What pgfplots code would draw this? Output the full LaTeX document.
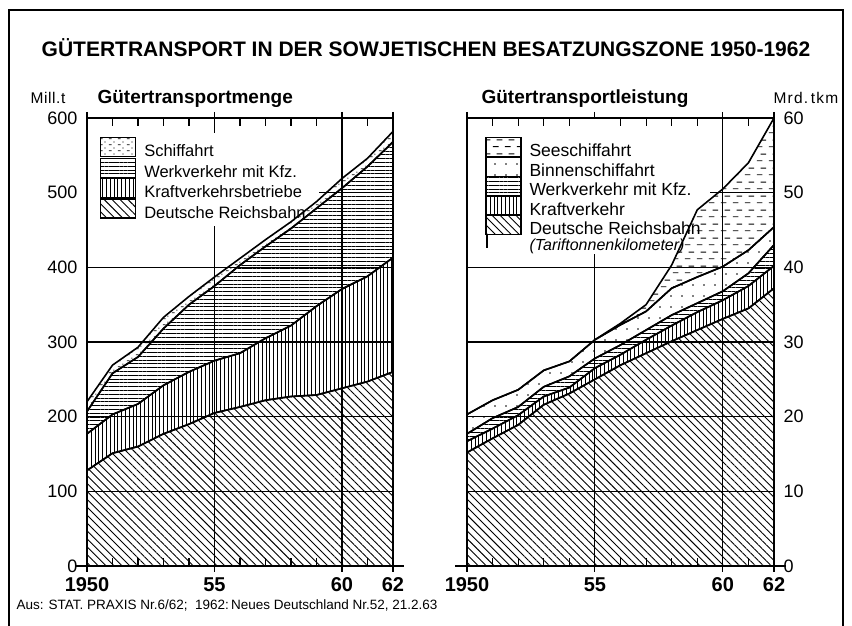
\documentclass[border=0pt]{standalone}
\usepackage{pgfplots}
\pgfplotsset{compat=1.18}
\usepackage{pgfplotstable}
\usetikzlibrary{patterns,patterns.meta}
\usepackage{fontspec}
\setmainfont{Liberation Sans}

\pgfdeclarepatternformonly{seedash}{\pgfqpoint{0pt}{0pt}}{\pgfqpoint{12pt}{14pt}}{\pgfqpoint{12pt}{14pt}}{%
  \pgfsetlinewidth{1pt}%
  \pgfpathmoveto{\pgfqpoint{1pt}{3.5pt}}\pgfpathlineto{\pgfqpoint{7pt}{3.5pt}}%
  \pgfpathmoveto{\pgfqpoint{5pt}{10.5pt}}\pgfpathlineto{\pgfqpoint{11pt}{10.5pt}}%
  \pgfusepath{stroke}}
\pgfdeclarepatternformonly{shipdots}{\pgfqpoint{0pt}{0pt}}{\pgfqpoint{9pt}{6pt}}{\pgfqpoint{9pt}{6pt}}{%
  \pgfsetlinewidth{0.9pt}%
  \pgfpathmoveto{\pgfqpoint{1pt}{1.5pt}}\pgfpathlineto{\pgfqpoint{4pt}{1.5pt}}%
  \pgfusepath{stroke}%
  \pgfpathcircle{\pgfqpoint{6.5pt}{4.5pt}}{0.7pt}\pgfusepath{fill}}

% Guetertransportmenge (Mill. t), one column per carrier
\pgfplotstableread{
year rb   kv   wv   sf
1950 128  49   30   13
1951 151  52   55   11
1952 160  57   63   13
1953 177  65   76   15
1954 190  70   90   11
1955 205  70   100  12
1956 213  72   118  9
1957 222  83   123  9
1958 227  95   130  9
1959 229  119  131  9
1960 238  133  135  13
1961 247  141  147  11
1962 260  153  155  14
}\leftdata

% Guetertransportleistung (Mrd. tkm), one column per carrier
\pgfplotstableread{
year rb   kv   wv   bs   ss
1950 15.2 1.5  1.0  2.6  0
1951 17.1 1.3  1.4  2.4  0
1952 18.9 1.3  1.1  2.3  0
1953 21.6 1.1  1.3  2.2  0
1954 23.1 0.8  1.5  2.0  0
1955 25.0 1.5  1.3  2.5  0
1956 26.9 1.4  1.3  2.7  0.2
1957 28.5 1.8  1.3  2.5  0.9
1958 30.1 2.1  1.4  3.6  3.1
1959 31.6 2.4  1.2  3.5  9.0
1960 33.1 2.5  1.2  3.3  10.4
1961 34.5 3.0  1.7  3.1  11.7
1962 37.2 3.0  2.8  2.4  14.6
}\rightdata

\tikzset{
  rbpat/.style={pattern={Lines[angle=-45,distance=5.6pt,line width=0.9pt]}},
  kvpat/.style={pattern={Lines[angle=90,distance=3.8pt,line width=0.8pt]}},
  wvpat/.style={pattern={Lines[angle=0,distance=3.8pt,line width=0.8pt]}},
  sfpat/.style={pattern=shipdots},
  bspat/.style={pattern={Dots[distance=11pt,radius=0.8pt]}},
  sspat/.style={pattern=seedash},
  band/.style={draw=black, line width=1.6pt, line join=round},
  gridl/.style={line width=1.1pt, black},
}

\pgfplotsset{
  mybox/.style={legend image code/.code={\draw[line width=1.2pt,#1] (0pt,-5pt) rectangle (35pt,14pt);}},
  panel/.style={
    scale only axis, width=306pt, height=448pt,
    xmin=1950, xmax=1962,
    stack plots=y,
    axis line style={line width=1.3pt},
    xtick={1950,1955,1960,1962},
    xticklabels={1950,55,60,62},
    xticklabel style={font=\fontsize{20}{20}\selectfont\bfseries, yshift=-2pt},
    yticklabel style={font=\fontsize{18}{18}\selectfont},
    /pgf/number format/assume math mode=true,
    tick align=outside,
    major tick length=6pt,
    tick style={line width=1.1pt, black},
    y tick style={draw=none},
    extra x ticks={1951,1952,1953,1954,1956,1957,1958,1959,1961},
    extra x tick labels={},
    extra x tick style={tick align=inside, major tick length=8pt},
    clip=false,
    legend cell align=left,
    legend style={draw=none, fill=none,
      row sep=-1.2pt, inner xsep=4pt,
      nodes={inner xsep=8pt, inner ysep=0pt, text height=12pt, text depth=2pt}},
  }
}

\begin{document}
\begin{tikzpicture}[x=1pt,y=1pt]
\useasboundingbox (0,0) rectangle (852,626);

% frame
\draw[line width=1.2pt] (9,-5) -- (9,616) -- (843,616) -- (843,-5);

% titles
\node[font=\fontsize{21}{21}\selectfont\bfseries] at (426,578) {GÜTERTRANSPORT IN DER SOWJETISCHEN BESATZUNGSZONE 1950-1962};
\node[anchor=base west, font=\fontsize{19}{19}\selectfont\bfseries] at (94,522) {Gütertransportmenge};
\node[anchor=base west, font=\fontsize{15.5}{15.5}\selectfont\addfontfeatures{LetterSpace=4}] at (27,522) {Mill.t};
\node[anchor=base west, font=\fontsize{19}{19}\selectfont\bfseries] at (478,522) {Gütertransportleistung};
\node[anchor=base west, font=\fontsize{15.5}{15.5}\selectfont\addfontfeatures{LetterSpace=8}] at (770,522) {Mrd.\,tkm};
\node[anchor=base west, font=\fontsize{13.5}{13.5}\selectfont] at (13,16) {Aus: STAT. PRAXIS Nr.6/62;\ \ 1962:\,Neues Deutschland Nr.52, 21.2.63};

% ---------------- left panel
\begin{axis}[panel, at={(87pt,60pt)}, anchor=south west,
  ymin=0, ymax=600, ytick={0,100,...,600},
  legend style={at={(rel axis cs:0.029,0.9665)}, anchor=north west, inner ysep=4pt,
    font=\fontsize{16.5}{18}\selectfont}]
\addlegendimage{mybox=sfpat}
\addlegendentry{Schiffahrt}
\addlegendimage{mybox=wvpat}
\addlegendentry{Werkverkehr mit Kfz.}
\addlegendimage{mybox=kvpat}
\addlegendentry{Kraftverkehrsbetriebe}
\addlegendimage{mybox=rbpat}
\addlegendentry{Deutsche Reichsbahn}

% grid (interrupted behind the legend)
\draw[gridl] (axis cs:1950,100) -- (axis cs:1962,100);
\draw[gridl] (axis cs:1950,200) -- (axis cs:1962,200);
\draw[gridl] (axis cs:1950,300) -- (axis cs:1962,300);
\draw[gridl] (axis cs:1950,400) -- (axis cs:1962,400);
\draw[gridl] (axis cs:1959.1,500) -- (axis cs:1962,500);
\draw[gridl] (axis cs:1955,0) -- (axis cs:1955,455);
\draw[gridl] (axis cs:1955,580) -- (axis cs:1955,600);
\draw[gridl] (axis cs:1960,0) -- (axis cs:1960,600);

\addplot[band, rbpat, forget plot] table[x=year,y=rb]{\leftdata} \closedcycle;
\addplot[band, kvpat, forget plot] table[x=year,y=kv]{\leftdata} \closedcycle;
\addplot[band, wvpat, forget plot] table[x=year,y=wv]{\leftdata} \closedcycle;
\addplot[band, sfpat, forget plot] table[x=year,y=sf]{\leftdata} \closedcycle;
\draw[line width=1.4pt] (axis cs:1949.55,0) -- (axis cs:1962.45,0);
\end{axis}

% ---------------- right panel
\begin{axis}[panel, at={(467pt,60pt)}, anchor=south west, width=307pt,
  ymin=0, ymax=60, ytick={0,10,...,60}, yticklabel pos=right,
  legend style={at={(rel axis cs:0.046,0.9754)}, anchor=north west, inner ysep=8pt,
    row sep=-2.2pt, font=\fontsize{17.5}{18}\selectfont}]
\addlegendimage{mybox=sspat}
\addlegendentry{Seeschiffahrt}
\addlegendimage{mybox=bspat}
\addlegendentry{Binnenschiffahrt}
\addlegendimage{mybox=wvpat}
\addlegendentry{Werkverkehr mit Kfz.}
\addlegendimage{mybox=kvpat}
\addlegendentry{Kraftverkehr}
\addlegendimage{mybox=rbpat}
\addlegendentry{Deutsche Reichsbahn}
\addlegendimage{legend image code/.code={\path (0pt,-2pt) rectangle (1pt,11pt);}}
\addlegendentry{\fontsize{16}{16}\selectfont\itshape (Tariftonnenkilometer)}

% grid (interrupted behind the legend)
\draw[gridl] (axis cs:1950,10) -- (axis cs:1962,10);
\draw[gridl] (axis cs:1950,20) -- (axis cs:1962,20);
\draw[gridl] (axis cs:1950,30) -- (axis cs:1962,30);
\draw[gridl] (axis cs:1950,40) -- (axis cs:1962,40);
\draw[gridl] (axis cs:1959.5,50) -- (axis cs:1962,50);
\draw[gridl] (axis cs:1955,0) -- (axis cs:1955,41.8);
\draw[gridl] (axis cs:1960,0) -- (axis cs:1960,60);

\addplot[band, rbpat, forget plot] table[x=year,y=rb]{\rightdata} \closedcycle;
\addplot[band, kvpat, forget plot] table[x=year,y=kv]{\rightdata} \closedcycle;
\addplot[band, wvpat, forget plot] table[x=year,y=wv]{\rightdata} \closedcycle;
\addplot[band, bspat, forget plot] table[x=year,y=bs]{\rightdata} \closedcycle;
\addplot[band, sspat, forget plot] table[x=year,y=ss]{\rightdata} \closedcycle;
\draw[line width=1.4pt] (axis cs:1949.55,0) -- (axis cs:1962.45,0);
\end{axis}
\end{tikzpicture}
\end{document}
